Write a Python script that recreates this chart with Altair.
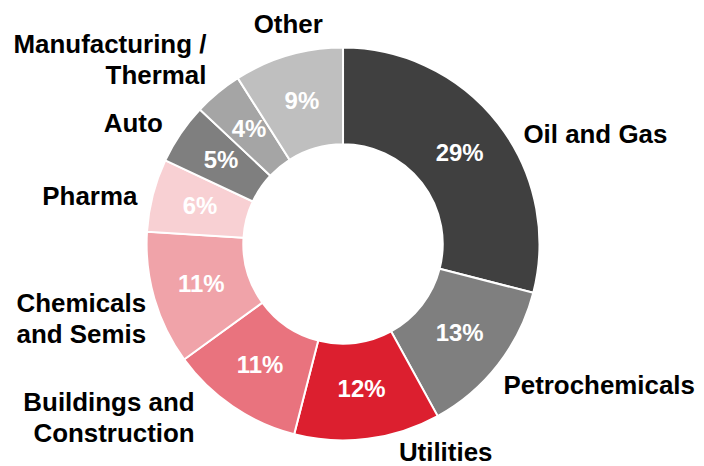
import altair as alt
import pandas as pd

# ---- data ----
categories = ["Oil and Gas", "Petrochemicals", "Utilities", "Buildings and Construction",
              "Chemicals and Semis", "Pharma", "Auto", "Manufacturing / Thermal", "Other"]
label_text = ["Oil and Gas", "Petrochemicals", "Utilities", "Buildings and\nConstruction",
              "Chemicals\nand Semis", "Pharma", "Auto", "Manufacturing /\nThermal", "Other"]
shares = [29, 13, 12, 11, 11, 6, 5, 4, 9]
colors = ["#404040", "#7f7f7f", "#dc1f2f", "#e9737e", "#f0a3a9",
          "#f8d0d3", "#7f7f7f", "#a5a5a5", "#bfbfbf"]

df = pd.DataFrame({
    "idx": list(range(len(categories))),
    "category": categories,
    "label": label_text,
    "pct": shares,
})

# ---- label layout (alignment and small nudges) ----
LABEL_LAYOUT = {
    "Oil and Gas": ("left", 11, 23),
    "Petrochemicals": ("left", -9, 11),
    "Utilities": ("center", 76, -4),
    "Buildings and Construction": ("right", -28, -18),
    "Chemicals and Semis": ("right", 9, 0),
    "Pharma": ("right", 2, 6),
    "Auto": ("right", -3, 1),
    "Manufacturing / Thermal": ("right", 0, -34),
    "Other": ("center", 5, -13),
}

FONT = "Liberation Sans"
theta_scale = alt.Scale(domain=[0, 100])
color_enc = alt.Color("category:N", scale=alt.Scale(domain=categories, range=colors), legend=None)

base = alt.Chart(df)

arcs = base.mark_arc(innerRadius=100, outerRadius=197, stroke="white", strokeWidth=2).encode(
    theta=alt.Theta("pct:Q", stack=True, scale=theta_scale),
    color=color_enc,
    order=alt.Order("idx:Q"),
)

mid_base = base.transform_window(
    cum="sum(pct)", sort=[alt.SortField("idx")]
).transform_calculate(
    mid="datum.cum - datum.pct / 2",
    ptxt="datum.pct + '%'",
)

pct_text = mid_base.mark_text(
    radius=148, fontSize=24, fontWeight="bold", color="white", font=FONT,
    align="center", baseline="middle",
).encode(
    theta=alt.Theta("mid:Q", stack=False, scale=theta_scale),
    text="ptxt:N",
)

label_layers = []
for cat, (al, dx, dy) in LABEL_LAYOUT.items():
    lyr = mid_base.transform_filter(
        alt.datum.category == cat
    ).mark_text(
        radius=215, fontSize=26, fontWeight="bold", color="black", font=FONT,
        align=al, baseline="middle", dx=dx, dy=dy, lineBreak="\n", lineHeight=31,
    ).encode(
        theta=alt.Theta("mid:Q", stack=False, scale=theta_scale),
        text="label:N",
    )
    label_layers.append(lyr)

chart = alt.layer(arcs, pct_text, *label_layers).properties(
    width=672, height=440,
    padding={"left": 0, "top": 16, "right": 18, "bottom": 0},
    autosize=alt.AutoSizeParams(type="none"),
).configure_view(stroke=None)

chart.save("out.html", embed_options={"renderer": "svg", "actions": False})
